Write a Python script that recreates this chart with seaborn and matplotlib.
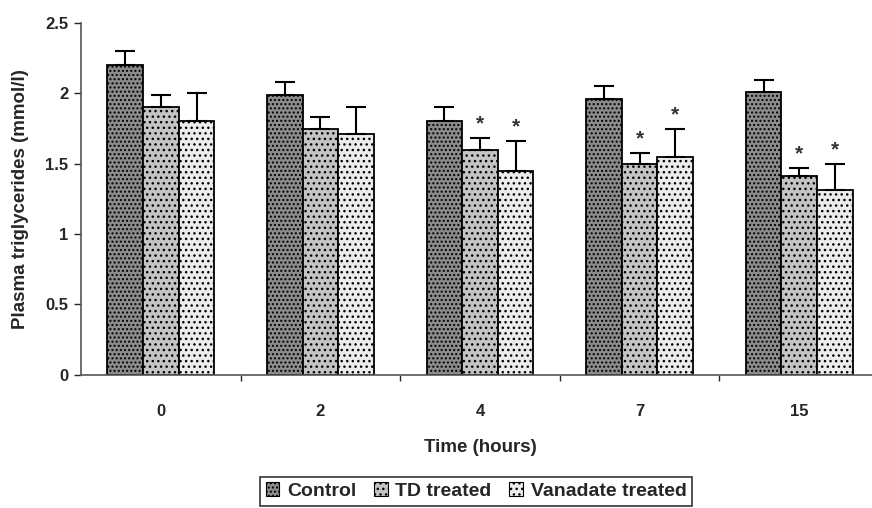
import numpy as np
import pandas as pd
import matplotlib
matplotlib.use('Agg')
import matplotlib.pyplot as plt
import seaborn as sns
from matplotlib.patches import Patch

# data
times = ['0', '2', '4', '7', '15']
groups = ['Control', 'TD treated', 'Vanadate treated']
control = [2.20, 1.99, 1.80, 1.96, 2.01]
td = [1.90, 1.745, 1.60, 1.50, 1.41]
vanadate = [1.80, 1.71, 1.445, 1.55, 1.31]
control_err = [0.10, 0.09, 0.10, 0.09, 0.085]
td_err = [0.09, 0.09, 0.08, 0.075, 0.06]
vanadate_err = [0.20, 0.19, 0.215, 0.195, 0.19]
# significance stars (TD, Vanadate) per time point
td_star = [False, False, True, True, True]
van_star = [False, False, True, True, True]

sns.set_style('white')
plt.rcParams['font.family'] = ['Liberation Sans', 'DejaVu Sans']
plt.rcParams['hatch.linewidth'] = 1.0

df = pd.DataFrame({
    'Time': times * 3,
    'Group': [g for g in groups for _ in times],
    'Value': control + td + vanadate,
})

fig = plt.figure(figsize=(8.72, 5.08), dpi=100)
ax = fig.add_axes([0.093, 0.262, 0.915, 0.693])

sns.barplot(data=df, x='Time', y='Value', hue='Group', order=times, hue_order=groups,
            width=0.67, errorbar=None, ax=ax, legend=False)

faces = ['#8c8c8c', '#c4c4c4', '#ececec']
hatches = ['....', '...', '...']
bar_conts = list(ax.containers)
for gi, cont in enumerate(bar_conts):
    for p in cont.patches:
        p.set_facecolor(faces[gi])
        p.set_hatch(hatches[gi])
        p.set_edgecolor('black')
        p.set_linewidth(1.3)

errs = [control_err, td_err, vanadate_err]
vals = [control, td, vanadate]
stars = [[False] * 5, td_star, van_star]
for gi, cont in enumerate(bar_conts):
    xs = [p.get_x() + p.get_width() / 2 for p in cont.patches]
    e = np.array(errs[gi])
    v = np.array(vals[gi])
    ax.errorbar(xs, v, yerr=[np.zeros_like(e), e], fmt='none', ecolor='black',
                elinewidth=1.5, capsize=7, capthick=1.5, zorder=3)
    for x, vv, ee, s in zip(xs, v, e, stars[gi]):
        if s:
            ax.text(x, vv + ee + 0.1, '*', ha='center', va='center', fontsize=15,
                    fontweight='bold', color='#333333')

ax.set_ylim(0, 2.5)
ax.set_xlim(-0.5, 4.5)
ax.set_yticks([0, 0.5, 1, 1.5, 2, 2.5])
ax.set_yticklabels(['0', '0.5', '1', '1.5', '2', '2.5'])
ax.set_xticks(np.arange(0.5, 4.5, 1), minor=True)
ax.tick_params(axis='x', which='major', length=0, pad=21, labelsize=12)
ax.tick_params(axis='x', which='minor', length=4, width=1, bottom=True, direction='out')
ax.tick_params(axis='y', which='major', length=5, width=1, left=True, labelsize=12, pad=4)
for lab in ax.get_xticklabels() + ax.get_yticklabels():
    lab.set_fontweight('bold')
for sp in ['top', 'right']:
    ax.spines[sp].set_visible(False)
for sp in ['left', 'bottom']:
    ax.spines[sp].set_color('#555555')
    ax.spines[sp].set_linewidth(1.2)

ax.set_xlabel('Time (hours)', fontsize=13.5, fontweight='bold', labelpad=14)
ax.set_ylabel('Plasma triglycerides (mmol/l)', fontsize=13.5, fontweight='bold', labelpad=12)

handles = [Patch(facecolor=faces[i], hatch=hatches[i], edgecolor='black', linewidth=0.8)
           for i in range(len(groups))]
leg = fig.legend(handles, groups, loc='center', bbox_to_anchor=(0.546, 0.033), ncol=3,
                 frameon=True, fancybox=False, handlelength=0.7, handleheight=0.7,
                 handletextpad=0.4, columnspacing=0.9, borderpad=0.3,
                 prop={'weight': 'bold', 'size': 14})
leg.get_frame().set_edgecolor('black')
leg.get_frame().set_linewidth(1.2)

fig.savefig('out.png', dpi=100)
